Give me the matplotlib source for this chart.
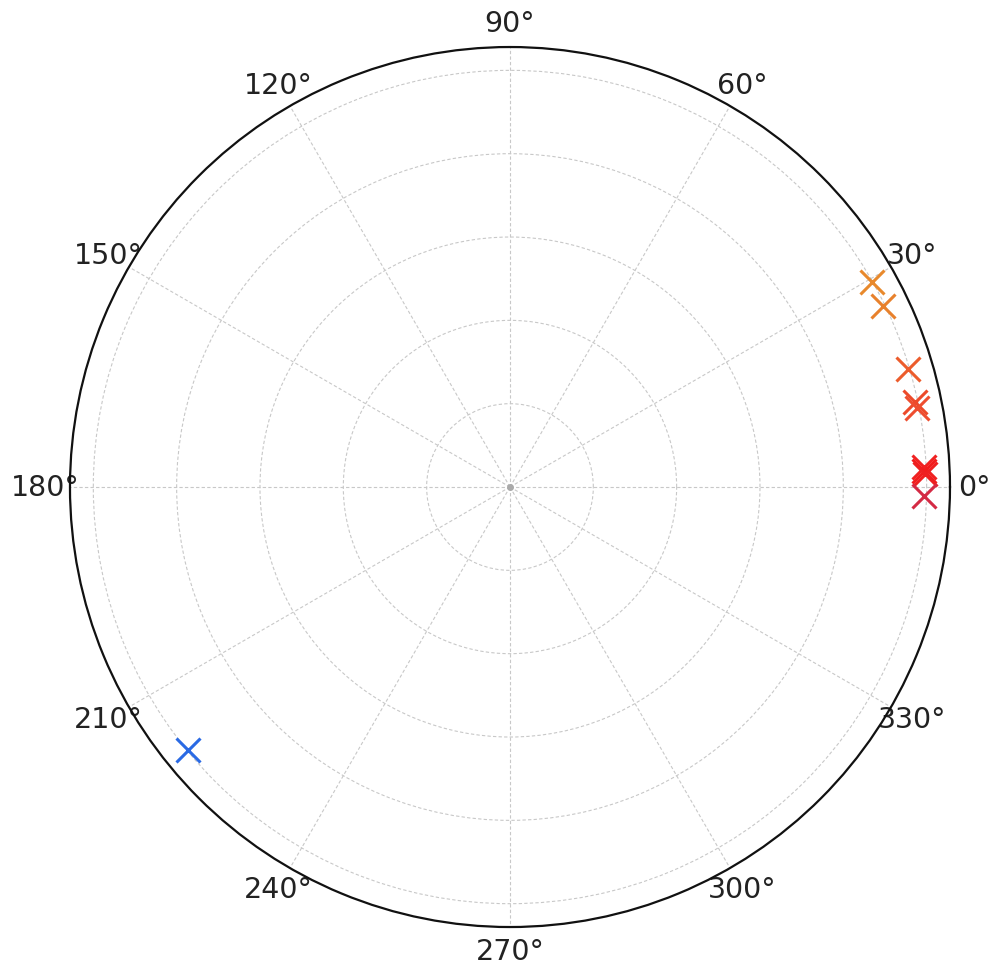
import numpy as np
import matplotlib
matplotlib.use('Agg')
import matplotlib.pyplot as plt

# phase angles (deg) and magnitudes of the points
angles_deg = [29.5, 25.9, 16.5, 11.8, 11.0, 2.8, 2.2, 1.8, -1.2, 219.3]
radii = [0.997, 0.995, 0.996, 0.993, 0.995, 0.996, 0.995, 0.997, 0.995, 0.998]
colors = ['#e8892c', '#e8812c', '#ec5c2c', '#ec4a2a', '#ee4e30',
          '#f02222', '#f21c1c', '#ee2020', '#d42a44', '#2a6ae4']

theta_ticks = np.arange(0, 360, 30)
r_ticks = [0.2, 0.4, 0.6, 0.8, 1.0]

fig = plt.figure(figsize=(9.98, 9.78), dpi=100)
ax = fig.add_axes([0.0701, 0.0511, 0.8818, 0.8998], projection='polar')

for a, r, c in zip(angles_deg, radii, colors):
    ax.plot(np.deg2rad(a), r, marker='x', color=c, markersize=17, mew=2.2, linestyle='none')

ax.set_rlim(0, 1.056)
ax.set_rticks(r_ticks)
ax.set_yticklabels([])
ax.set_thetagrids(theta_ticks, [f'{t}°' for t in theta_ticks], fontsize=20.5, color='#222222')
ax.tick_params(axis='x', pad=7)
ax.grid(True, color='#c8c8c8', linestyle=(0, (3, 2)), linewidth=0.8)
ax.spines['polar'].set_color('#111111')
ax.spines['polar'].set_linewidth(1.6)
ax.plot(0, 0, 'o', color='#aaaaaa', markersize=4)

fig.savefig('out.png', dpi=100)
